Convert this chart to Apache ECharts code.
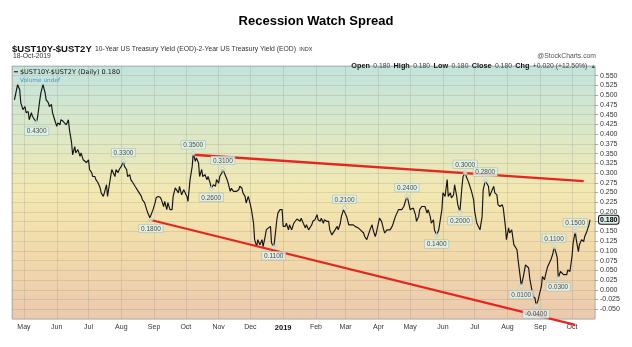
<!DOCTYPE html>
<html><head><meta charset="utf-8">
<script src="https://cdn.jsdelivr.net/npm/echarts@6/dist/echarts.min.js"></script>
<style>html,body{margin:0;padding:0;background:#fff}#c{width:632px;height:347px}</style>
</head><body><div id="c"></div>
<script>
// Day offsets counted from 2018-05-01 (day 0)
const days = [-9,-6,-4,-3,-1,1,2,4,5,7,8,10,12,13,15,16,18,20,21,23,24,26,27,29,31,32,34,35,37,38,40,42,43,45,46,48,49,51,53,54,56,57,59,61,62,64,65,67,68,70,72,73,75,76,78,79,81,83,84,86,87,89,90,92,94,95,97,98,100,101,103,105,106,108,109,111,112,114,116,117,119,120,122,124,125,127,
129,130,132,133,135,136,138,140,141,143,144,146,147,149,151,152,154,155,157,159,160,162,163,165,166,168,169,171,173,174,176,177,179,181,182,184,185,187,188,190,192,193,195,196,198,199,201,203,204,206,207,209,210,212,214,215,217,218,220,221,223,225,226,228,229,231,233,234,236,237,239,240,242,244,245,247,248,250,251,253,255,256,258,259,261,262,264,266,267,269,270,272,273,275,277,278,280,281,283,284,286,288,289,291,292,294,296,297,299,300,302,303,305,307,308,311,313,314,316,318,319,321,322,324,325,327,329,330,332,333,335,336,338,340,341,343,344,346,348,349,351,352,354,355,357,359,360,362,363,365,366,368,370,371,373,374,376,377,379,381,382,384,385,387,388,390,392,393,395,396,398,400,401,403,404,406,407,409,410,412,414,415,417,418,420,421,423,425,426,428,429,431,433,434,436,437,439,440,442,444,445,447,448,450,452,453,455,456,458,459,461,463,464,466,467,469,470,472,474,475,477,478,480,481,483,484,486,487,489,490,492,493,495,496,498,500,501,503,504,505,507,508,510,511,513,514,516,518,519,521,522,524,525,527,529,530,532,533,534,535];
const spread = [0.488,0.527,0.514,0.481,0.463,0.471,0.455,0.458,0.437,0.455,0.446,0.437,0.430,0.446,0.488,0.506,0.527,0.506,0.488,0.481,0.471,0.476,0.455,0.437,0.420,0.429,0.424,0.437,0.433,0.429,0.424,0.437,0.411,0.378,0.347,0.368,0.352,0.360,0.343,0.352,0.334,0.339,0.327,0.334,0.309,0.301,0.291,0.291,0.283,0.275,0.262,0.249,0.240,0.249,0.270,0.240,0.275,0.309,0.314,0.291,0.309,0.301,0.309,0.317,0.330,0.317,0.309,0.291,0.296,0.283,0.275,0.266,0.270,0.253,0.257,0.240,0.231,0.224,0.206,0.198,0.185,0.180,0.206,0.224,0.237,0.240,
0.237,0.231,0.214,0.227,0.206,0.224,0.206,0.206,0.240,0.262,0.266,0.249,0.266,0.244,0.257,0.262,0.240,0.227,0.283,0.317,0.350,0.330,0.339,0.326,0.291,0.309,0.291,0.296,0.283,0.291,0.274,0.260,0.270,0.266,0.283,0.274,0.291,0.300,0.310,0.296,0.283,0.274,0.253,0.261,0.253,0.249,0.253,0.257,0.266,0.261,0.249,0.240,0.223,0.240,0.219,0.206,0.171,0.129,0.111,0.129,0.116,0.129,0.111,0.137,0.154,0.159,0.163,0.120,0.110,0.129,0.180,0.197,0.206,0.206,0.163,0.163,0.171,0.154,0.167,0.154,0.171,0.174,0.182,0.184,0.176,0.184,0.171,0.159,0.167,0.154,0.150,0.167,0.176,0.180,0.193,0.180,0.176,0.184,0.171,0.180,0.176,0.176,0.154,0.141,0.146,0.154,0.163,0.154,0.171,0.188,0.206,0.210,0.188,0.167,0.167,0.167,0.163,0.167,0.159,0.154,0.159,0.146,0.137,0.129,0.133,0.154,0.167,0.154,0.137,0.146,0.171,0.184,0.176,0.154,0.146,0.154,0.159,0.154,0.163,0.171,0.188,0.184,0.206,0.206,0.206,0.214,0.223,0.240,0.231,0.206,0.201,0.210,0.193,0.176,0.188,0.206,0.214,0.219,0.214,0.197,0.206,0.188,0.171,0.180,0.154,0.140,0.154,0.159,0.206,0.249,0.240,0.283,0.240,0.249,0.236,0.244,0.270,0.240,0.219,0.200,0.266,0.291,0.300,0.291,0.278,0.270,0.253,0.231,0.201,0.171,0.167,0.154,0.188,0.257,0.280,0.278,0.266,0.240,0.253,0.266,0.249,0.244,0.219,0.214,0.219,0.210,0.163,0.129,0.159,0.146,0.154,0.116,0.116,0.103,0.077,0.034,0.010,0.034,0.064,0.069,0.056,0.030,0.000,-0.017,-0.021,-0.040,-0.026,-0.013,0.008,0.034,0.026,0.039,0.060,0.064,0.077,0.094,0.110,0.094,0.082,0.030,0.047,0.043,0.039,0.043,0.039,0.051,0.047,0.086,0.120,0.150,0.129,0.098,0.116,0.129,0.124,0.137,0.150,0.154,0.167,0.180];

// Annotated turning points
const annDays  = [12, 94, 120, 160, 177, 188, 236, 303, 362, 390, 412, 417, 436, 470, 484, 501, 505, 521];
const annTexts = ['0.4300','0.3300','0.1800','0.3500','0.2600','0.3100','0.1100','0.2100','0.2400','0.1400','0.2000','0.3000','0.2800','0.0100','-0.0400','0.1100','0.0300','0.1500'];
const annBelow = [true,false,true,false,true,false,true,false,false,true,true,false,false,true,true,false,true,false];

// Trend lines [day, value]
const upperTrend = [[160, 0.347], [529, 0.279]];
const lowerTrend = [[119, 0.180], [521, -0.090]];

const monthNames = ['Jan','Feb','Mar','Apr','May','Jun','Jul','Aug','Sep','Oct','Nov','Dec'];
const lastValue = 0.180;

const DAY = 86400000;
const base = new Date(2018, 4, 1).getTime();
const t = d => base + d * DAY;

const lineData = days.map((d, i) => [t(d), spread[i]]);
const annData = annDays.map((d, i) => ({
  value: [t(d), spread[days.indexOf(d)]],
  text: annTexts[i],
  label: { position: annBelow[i] ? 'bottom' : 'top' }
}));

const chart = echarts.init(document.getElementById('c'), null, { renderer: 'canvas' });
const FONT = 'Liberation Sans, Arial, sans-serif';

chart.setOption({
  animation: false,
  backgroundColor: '#ffffff',
  textStyle: { fontFamily: FONT },
  grid: {
    left: 12, right: 37, top: 66, bottom: 28,
    show: true,
    borderColor: '#9a9a9a', borderWidth: 0.6,
    backgroundColor: {
      type: 'linear', x: 0, y: 0, x2: 0, y2: 1,
      colorStops: [
        { offset: 0, color: '#c3e3dc' },
        { offset: 0.25, color: '#dae8c8' },
        { offset: 0.5, color: '#f3e8b1' },
        { offset: 0.75, color: '#f2d9aa' },
        { offset: 1, color: '#ebc9ae' }
      ]
    }
  },
  xAxis: {
    type: 'time',
    min: t(-11.3), max: t(539.7),
    splitNumber: 18,
    minInterval: 28 * DAY, maxInterval: 32 * DAY,
    axisLine: { show: false },
    axisTick: { show: false },
    splitLine: { show: true, lineStyle: { color: 'rgba(130,130,130,0.35)', width: 0.6 } },
    axisLabel: {
      fontSize: 7, color: '#333', margin: 5, hideOverlap: false,
      formatter: function (v) {
        const d = new Date(v);
        return d.getMonth() === 0 ? '{y|' + d.getFullYear() + '}' : monthNames[d.getMonth()];
      },
      rich: { y: { fontWeight: 'bold', fontSize: 7.5, color: '#111' } }
    }
  },
  yAxis: {
    type: 'value', position: 'right',
    min: -0.075, max: 0.575, interval: 0.025,
    axisLine: { show: false },
    axisTick: { show: true, length: 3, lineStyle: { color: '#777', width: 0.6 } },
    splitLine: { show: true, lineStyle: { color: 'rgba(130,130,130,0.35)', width: 0.6 } },
    axisLabel: {
      fontSize: 7, color: '#333', margin: 5,
      showMinLabel: false, showMaxLabel: false,
      formatter: function (v) {
        if (Math.abs(v - 0.175) < 1e-6) return '';
        if (v < -0.07 || v > 0.57) return '';
        return v.toFixed(3);
      }
    }
  },
  series: [
    {
      type: 'line', data: lineData, showSymbol: false, z: 3,
      lineStyle: { color: '#151515', width: 1.15 },
      markLine: {
        silent: true, symbol: ['none', 'none'],
        lineStyle: { color: 'rgba(0,0,0,0)', width: 0 },
        data: [{ yAxis: lastValue }],
        label: {
          show: true,
          position: 'end', distance: 4,
          formatter: lastValue.toFixed(3),
          fontSize: 7, fontWeight: 'bold', color: '#000',
          backgroundColor: '#dcefe9', borderColor: '#1a1a1a', borderWidth: 1,
          padding: [1, 1, 0, 1], borderRadius: 2
        }
      }
    },
    {
      type: 'line', data: upperTrend.map(p => [t(p[0]), p[1]]), showSymbol: false,
      clip: false, z: 4, lineStyle: { color: '#e5261f', width: 2.3 }
    },
    {
      type: 'line', data: lowerTrend.map(p => [t(p[0]), p[1]]), showSymbol: false,
      clip: false, z: 4, lineStyle: { color: '#e5261f', width: 2.3 }
    },
    {
      type: 'scatter', data: annData, z: 5,
      symbol: 'diamond', symbolSize: 5,
      itemStyle: { color: '#d6ede8', borderColor: '#8fb5ae', borderWidth: 0.5 },
      label: {
        show: true, formatter: p => p.data.text,
        fontSize: 6.5, color: '#222', distance: 2,
        backgroundColor: '#e0f1ed', borderColor: '#8fb5ae', borderWidth: 0.5,
        padding: [1, 2, 0, 2]
      }
    }
  ],
  graphic: [
    { type: 'text', left: 'center', top: 15,
      style: { text: 'Recession Watch Spread', font: 'bold 13px ' + FONT, fill: '#000' } },
    { type: 'text', left: 12, top: 43,
      style: {
        text: '{a|$UST10Y-$UST2Y} {b|10-Year US Treasury Yield (EOD)-2-Year US Treasury Yield (EOD)} {c|INDX}',
        rich: {
          a: { fontSize: 9.5, fontWeight: 'bold', fill: '#111', fontFamily: 'Liberation Sans Narrow, ' + FONT },
          b: { fontSize: 6.8, fill: '#333', fontFamily: FONT },
          c: { fontSize: 5.5, fill: '#333', fontFamily: FONT }
        }
      } },
    { type: 'text', left: 13, top: 53,
      style: { text: '18-Oct-2019', font: '6.8px ' + FONT, fill: '#333' } },
    { type: 'text', right: 36, top: 53,
      style: { text: '@StockCharts.com', font: '6.8px ' + FONT, fill: '#555' } },
    { type: 'text', right: 36, top: 60,
      style: {
        text: '{k|Open} {v|0.180} {k|High} {v|0.180} {k|Low} {v|0.180} {k|Close} {v|0.180} {k|Chg} {v|+0.020 (+12.50%)} {g|▲}',
        rich: {
          k: { fontSize: 7.3, fontWeight: 'bold', fill: '#111' },
          v: { fontSize: 6.8, fill: '#444' },
          g: { fontSize: 5.5, fill: '#2d6a3a' }
        }
      } },
    { type: 'text', left: 14, top: 69,
      style: { text: '━ $UST10Y-$UST2Y (Daily) 0.180', font: '6.5px DejaVu Sans, sans-serif', fill: '#111' } },
    { type: 'text', left: 20, top: 77,
      style: { text: 'Volume undef', font: '5.8px DejaVu Sans, sans-serif', fill: '#3f9ad0' } }
  ]
});
</script>
</body></html>
